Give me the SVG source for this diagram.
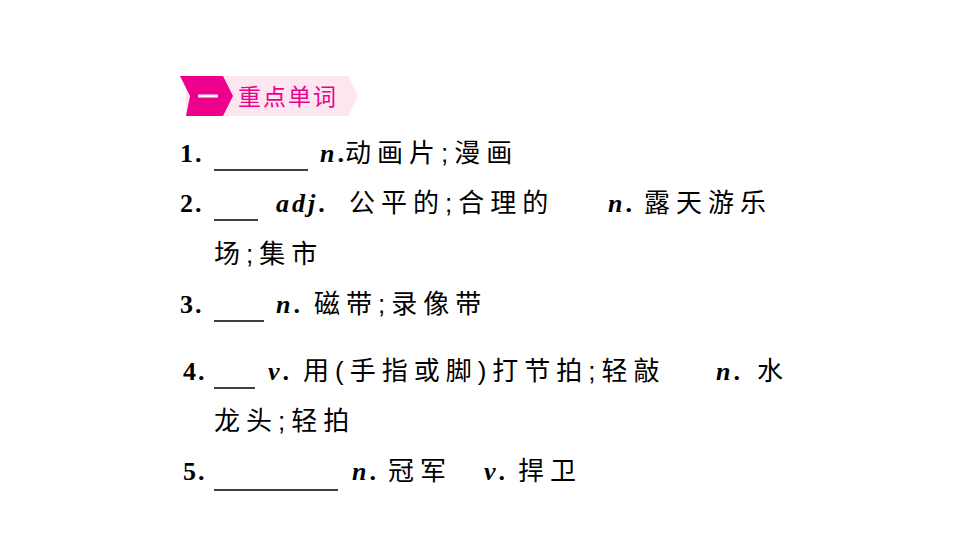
<svg xmlns="http://www.w3.org/2000/svg" width="960" height="540" viewBox="0 0 960 540">
<style>
.t{font-family:"Liberation Sans","Noto Sans CJK SC",sans-serif;font-size:26px;fill:#000;letter-spacing:6px}
.e{font-family:"Liberation Serif",serif;font-weight:bold;letter-spacing:2px}
.i{font-family:"Liberation Serif",serif;font-weight:bold;font-style:italic;letter-spacing:3px}
.u{stroke:#000;stroke-width:1.3}
</style>
<rect width="960" height="540" fill="#fff"/>
<g id="badge">
<path d="M186 76 H348 L358 96 L348 116 H186 Z" fill="#fde6ef"/>
<path d="M180 76 H223 L233 96 L223 116 H186 L190 96 Z" fill="#ec008c"/>
<rect x="198" y="94.5" width="20" height="3" fill="#fff"/>
<text x="238" y="105" font-family="Noto Sans CJK SC,sans-serif" font-size="23" fill="#ec008c" letter-spacing="2">重点单词</text>
</g>
<g id="lines">
<line class="u" x1="214" y1="170" x2="308" y2="170"/>
<line class="u" x1="214" y1="220" x2="258" y2="220"/>
<line class="u" x1="214" y1="321" x2="264" y2="321"/>
<line class="u" x1="214" y1="388" x2="255" y2="388"/>
<line class="u" x1="214" y1="490" x2="338" y2="490"/>
</g>
<g id="text">
<text class="t" y="162"><tspan x="180" class="e">1.</tspan><tspan x="320" class="i">n</tspan><tspan class="e">.</tspan><tspan x="345">动画片;漫画</tspan></text>
<text class="t" y="212"><tspan x="180" class="e">2.</tspan><tspan x="276" class="i">adj</tspan><tspan class="e">.</tspan><tspan x="349">公平的;合理的</tspan><tspan x="608" class="i">n</tspan><tspan class="e">.</tspan><tspan x="644">露天游乐</tspan></text>
<text class="t" x="214" y="263">场;集市</text>
<text class="t" y="313"><tspan x="180" class="e">3.</tspan><tspan x="276" class="i">n</tspan><tspan class="e">.</tspan><tspan x="314">磁带;录像带</tspan></text>
<text class="t" y="380"><tspan x="183" class="e">4.</tspan><tspan x="268" class="i">v</tspan><tspan class="e">.</tspan><tspan x="303">用(手指或脚)打节拍;轻敲</tspan><tspan x="716" class="i">n</tspan><tspan class="e">.</tspan><tspan x="757">水</tspan></text>
<text class="t" x="214" y="430">龙头;轻拍</text>
<text class="t" y="480"><tspan x="183" class="e">5.</tspan><tspan x="352" class="i">n</tspan><tspan class="e">.</tspan><tspan x="388">冠军</tspan><tspan x="484" class="i">v</tspan><tspan class="e">.</tspan><tspan x="518">捍卫</tspan></text>
</g>
</svg>
